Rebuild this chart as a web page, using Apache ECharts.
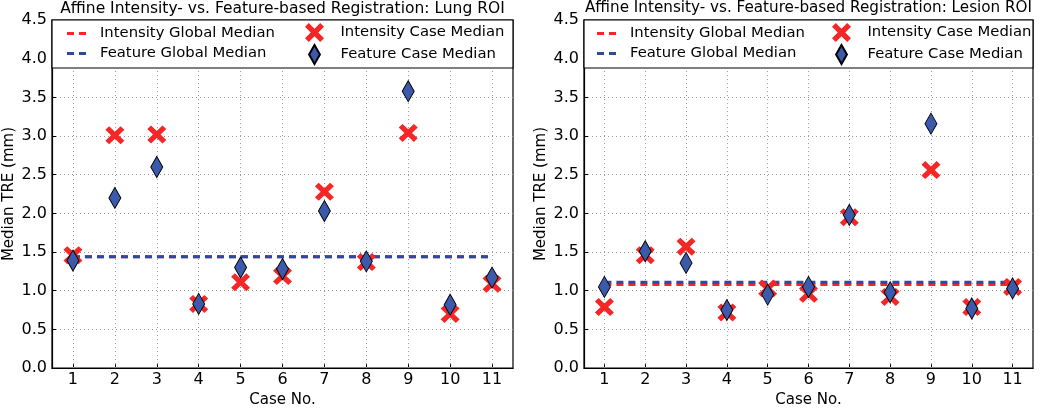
<!DOCTYPE html>
<html>
<head>
<meta charset="utf-8">
<script src="https://cdn.jsdelivr.net/npm/echarts@6/dist/echarts.min.js"></script>
<style>html,body{margin:0;padding:0;background:#fff}#c{width:1050px;height:413px}</style>
</head>
<body>
<div id="c"></div>
<script>
// ---- data ----
const categories = ['1','2','3','4','5','6','7','8','9','10','11'];
const lungIntensityCase = [1.46, 3.01, 3.02, 0.83, 1.11, 1.19, 2.28, 1.37, 3.04, 0.70, 1.09];
const lungFeatureCase   = [1.39, 2.20, 2.60, 0.83, 1.30, 1.28, 2.03, 1.38, 3.58, 0.82, 1.17];
const lungIntensityGlobal = 1.44;
const lungFeatureGlobal   = 1.44;
const lesionIntensityCase = [0.79, 1.46, 1.57, 0.72, 1.03, 0.96, 1.95, 0.92, 2.56, 0.79, 1.05];
const lesionFeatureCase   = [1.05, 1.51, 1.36, 0.75, 0.95, 1.05, 1.98, 0.98, 3.16, 0.77, 1.03];
const lesionIntensityGlobal = 1.08;
const lesionFeatureGlobal   = 1.11;
const titles = ['Affine Intensity- vs. Feature-based Registration: Lung ROI',
                'Affine Intensity- vs. Feature-based Registration: Lesion ROI'];
const yMin = 0, yMax = 4.5, yStep = 0.5;

// ---- styling ----
const FONT = 'DejaVu Sans';
const RED = '#f42626';
const BLUE_FILL = '#3b5aab';
const BLUE_LINE = '#2e4a9c';
const X_PATH = 'path://M0,2 L2,0 L5,3 L8,0 L10,2 L7,5 L10,8 L8,10 L5,7 L2,10 L0,8 L3,5 Z';
const D_PATH = 'path://M6,0 L12,10.5 L6,21 L0,10.5 Z';
const DASH_ICON = 'path://M0,0 H7 V3 H0 Z M12,0 H19 V3 H12 Z';

const grids = [
  {left: 52, top: 20, width: 461, height: 356},
  {left: 584, top: 20, width: 449, height: 356}
];
const titleSizes = [15.5, 15.2];
const LEGEND_FS = 14.8;
// legend column offsets relative to grid left (line-col left, marker-col left)
const legendOffsets = [[15, 253], [13, 248]];

const chart = echarts.init(document.getElementById('c'));

function buildSeries(gi, intCase, featCase, intGlobal, featGlobal) {
  return [
    {
      name: 'Intensity Global Median', type: 'line', xAxisIndex: gi, yAxisIndex: gi,
      data: [[categories[0], intGlobal], [categories[categories.length-1], intGlobal]],
      symbol: 'none', z: 3,
      lineStyle: {color: RED, width: 3, type: [7, 5]}, itemStyle: {color: RED},
      markLine: {
        silent: true, symbol: 'none', z: 1, label: {show: false},
        lineStyle: {color: '#9a9a9a', width: 1, type: [1, 3]},
        data: categories.map(c => ({xAxis: c}))
      }
    },
    {
      name: 'Feature Global Median', type: 'line', xAxisIndex: gi, yAxisIndex: gi,
      data: [[categories[0], featGlobal], [categories[categories.length-1], featGlobal]],
      symbol: 'none', z: 4,
      lineStyle: {color: BLUE_LINE, width: 3, type: [7, 5]}, itemStyle: {color: BLUE_LINE}
    },
    {
      name: 'Intensity Case Median', type: 'scatter', xAxisIndex: gi, yAxisIndex: gi,
      data: categories.map((c, i) => [c, intCase[i]]),
      symbol: X_PATH, symbolSize: [19, 18], z: 5,
      itemStyle: {color: RED, opacity: 1}
    },
    {
      name: 'Feature Case Median', type: 'scatter', xAxisIndex: gi, yAxisIndex: gi,
      data: categories.map((c, i) => [c, featCase[i]]),
      symbol: D_PATH, symbolSize: [12, 21], symbolKeepAspect: false, z: 6,
      itemStyle: {color: BLUE_FILL, borderColor: '#000', borderWidth: 1, opacity: 1}
    }
  ];
}

function legendsFor(gi) {
  const g = grids[gi];
  const off = legendOffsets[gi];
  return [
    {
      orient: 'vertical', left: g.left + off[0], top: 26, z: 20, padding: 0,
      itemWidth: 19, itemHeight: 14, itemGap: 5, symbolKeepAspect: true,
      data: [
        {name: 'Intensity Global Median', icon: DASH_ICON},
        {name: 'Feature Global Median', icon: DASH_ICON}
      ],
      textStyle: {fontFamily: FONT, fontSize: LEGEND_FS, color: '#000', padding: [0, 0, 0, 9]},
      selectedMode: false
    },
    {
      orient: 'vertical', left: g.left + off[1], top: 23, z: 20, padding: 0,
      itemWidth: 20, itemHeight: 19, itemGap: 2, symbolKeepAspect: true,
      data: ['Intensity Case Median', 'Feature Case Median'],
      textStyle: {fontFamily: FONT, fontSize: LEGEND_FS, color: '#000', padding: [0, 0, 0, 11]},
      selectedMode: false
    }
  ];
}

const option = {
  backgroundColor: '#fff',
  animation: false,
  title: titles.map((t, i) => ({
    text: t, left: grids[i].left + grids[i].width / 2, textAlign: 'center', top: 1, padding: 0,
    textStyle: {fontFamily: FONT, fontSize: titleSizes[i], fontWeight: 'normal', color: '#000'}
  })),
  legend: [...legendsFor(0), ...legendsFor(1)],
  graphic: grids.map(g => ({
    type: 'rect', z: 10,
    shape: {x: g.left, y: g.top, width: g.width, height: 48},
    style: {fill: '#fff', stroke: '#000', lineWidth: 1.2}
  })),
  grid: grids.map(g => Object.assign({show: true, borderColor: '#000', borderWidth: 1.2, backgroundColor: 'transparent'}, g)),
  xAxis: grids.map((g, i) => ({
    type: 'category', gridIndex: i, data: categories, boundaryGap: true,
    name: 'Case No.', nameLocation: 'middle', nameGap: 23,
    nameTextStyle: {fontFamily: FONT, fontSize: 15, color: '#000'},
    axisLine: {lineStyle: {color: '#000', width: 1.2}},
    axisTick: {show: true, inside: true, alignWithLabel: true, length: 4, lineStyle: {color: '#000'}},
    axisLabel: {fontFamily: FONT, fontSize: 16, color: '#000', margin: 4},
    splitLine: {show: false}
  })),
  yAxis: grids.map((g, i) => ({
    type: 'value', gridIndex: i, min: yMin, max: yMax, interval: yStep,
    name: 'Median TRE (mm)', nameLocation: 'middle', nameGap: 35,
    nameTextStyle: {fontFamily: FONT, fontSize: 15, color: '#000'},
    axisLine: {show: true, lineStyle: {color: '#000', width: 1.2}},
    axisTick: {show: true, inside: true, length: 4, lineStyle: {color: '#000'}},
    axisLabel: {fontFamily: FONT, fontSize: 16, color: '#000', margin: 5,
                formatter: v => v.toFixed(1)},
    splitLine: {show: true, lineStyle: {color: '#9a9a9a', width: 1, type: [1, 3]}}
  })),
  series: [
    ...buildSeries(0, lungIntensityCase, lungFeatureCase, lungIntensityGlobal, lungFeatureGlobal),
    ...buildSeries(1, lesionIntensityCase, lesionFeatureCase, lesionIntensityGlobal, lesionFeatureGlobal)
  ]
};
chart.setOption(option);
</script>
</body>
</html>
